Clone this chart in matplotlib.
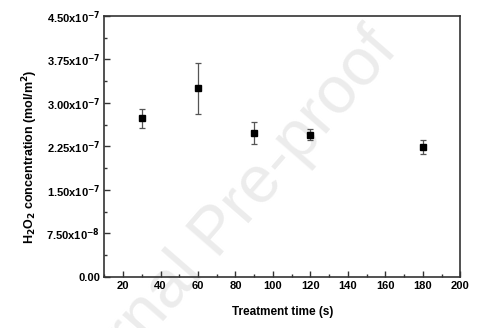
import matplotlib
matplotlib.use("Agg")
import matplotlib.pyplot as plt
from matplotlib.ticker import MultipleLocator, FixedLocator

plt.rcParams['font.family'] = 'Liberation Sans'
plt.rcParams['font.weight'] = 'bold'
plt.rcParams['mathtext.default'] = 'bf'

# treatment time (s) and H2O2 concentration (mol/m2)
time_s = [30, 60, 90, 120, 180]
conc = [2.73e-7, 3.25e-7, 2.48e-7, 2.45e-7, 2.24e-7]
conc_err = [0.17e-7, 0.44e-7, 0.19e-7, 0.10e-7, 0.115e-7]

y_ticks = [0, 0.75e-7, 1.5e-7, 2.25e-7, 3.0e-7, 3.75e-7, 4.5e-7]
y_ticklabels = ['0.00', r'7.50x10$^{-8}$', r'1.50x10$^{-7}$', r'2.25x10$^{-7}$',
                r'3.00x10$^{-7}$', r'3.75x10$^{-7}$', r'4.50x10$^{-7}$']
x_ticks = [20, 40, 60, 80, 100, 120, 140, 160, 180, 200]

fig = plt.figure(figsize=(4.83, 3.28), dpi=100)
ax = fig.add_axes([0.216, 0.156, 0.737, 0.796])
ax.set_zorder(1)

# watermark behind the plot
fig.text(0.45, 0.29, 'Journal Pre-proof', fontsize=48, fontweight='normal',
         color='#ececec', rotation=49, ha='center', va='center', zorder=0)
ax.patch.set_alpha(0)

ax.errorbar(time_s, conc, yerr=conc_err, fmt='s', color='black', ms=4.5,
            ecolor='#555555', elinewidth=0.9, capsize=2.5, capthick=0.9)

ax.set_xlim(10, 200)
ax.set_ylim(0, 4.5e-7)
ax.xaxis.set_major_locator(FixedLocator(x_ticks))
ax.xaxis.set_minor_locator(MultipleLocator(10))
ax.set_yticks(y_ticks)
ax.set_yticklabels(y_ticklabels)
ax.yaxis.set_minor_locator(MultipleLocator(0.375e-7))

ax.tick_params(which='both', direction='in', width=1.0, color='#333333',
               labelsize=8, pad=3)
ax.tick_params(which='major', length=4)
ax.tick_params(which='minor', length=2)
for s in ax.spines.values():
    s.set_linewidth(1.2)
    s.set_color('#333333')

ax.set_xlabel('Treatment time (s)', fontsize=8.5, fontweight='bold', labelpad=11)
ax.set_ylabel(r'H$_2$O$_2$ concentration (mol/m$^2$)', fontsize=9,
              fontweight='bold')
ax.yaxis.set_label_coords(-0.18, 0.46)

fig.savefig('out.png', dpi=100)
